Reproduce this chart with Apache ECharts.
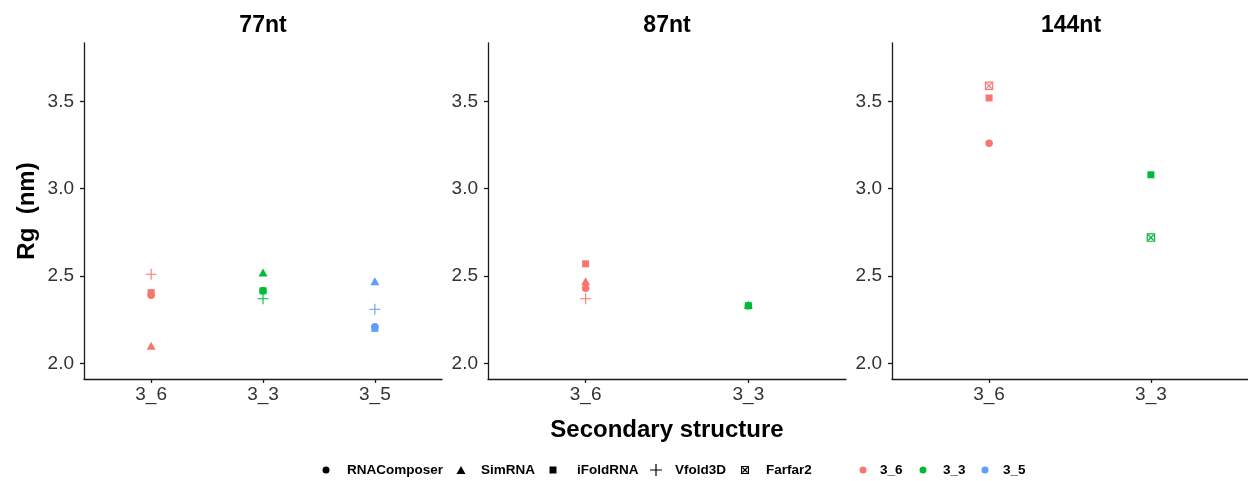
<!DOCTYPE html>
<html>
<head>
<meta charset="utf-8">
<script src="https://cdn.jsdelivr.net/npm/echarts@6/dist/echarts.min.js"></script>
<style>html,body{margin:0;padding:0;background:#fff;}#c{width:1248px;height:481px;}</style>
</head>
<body>
<div id="c"></div>
<script>
// ---------- data ----------
const panelNames = ['77nt', '87nt', '144nt'];
const cats77 = ['3_6', '3_3', '3_5'];
const cats87 = ['3_6', '3_3'];
const cats144 = ['3_6', '3_3'];
const methodNames = ['RNAComposer', 'SimRNA', 'iFoldRNA', 'Vfold3D', 'Farfar2'];
const structureNames = ['3_6', '3_3', '3_5'];
const yTicks = [2.0, 2.5, 3.0, 3.5];

// Rg (nm) per method, ordered as the panel's categories (null = no point)
const rg77_RNAComposer = [2.39, 2.415, 2.21];
const rg77_SimRNA      = [2.10, 2.52, 2.47];
const rg77_iFoldRNA    = [2.405, 2.415, 2.20];
const rg77_Vfold3D     = [2.51, 2.37, 2.31];
const rg77_Farfar2     = [null, null, null];

const rg87_RNAComposer = [2.43, 2.33];
const rg87_SimRNA      = [2.47, 2.335];
const rg87_iFoldRNA    = [2.57, 2.33];
const rg87_Vfold3D     = [2.37, null];
const rg87_Farfar2     = [null, null];

const rg144_RNAComposer = [3.26, null];
const rg144_SimRNA      = [null, null];
const rg144_iFoldRNA    = [3.52, 3.08];
const rg144_Vfold3D     = [null, null];
const rg144_Farfar2     = [3.59, 2.72];

// ---------- styling ----------
const FONT = '"Liberation Sans", Arial, Helvetica, sans-serif';
const structColors = { '3_6': '#F8766D', '3_3': '#00BA38', '3_5': '#619CFF' };
const PLUS = 'path://M0,5.4 L12,5.4 L12,6.6 L0,6.6 Z M5.4,0 L6.6,0 L6.6,12 L5.4,12 Z';
const BOXX = 'path://M0,0 L10,0 L10,10 L0,10 Z M1.4,1.4 L1.4,8.6 L8.6,8.6 L8.6,1.4 Z M1.4,2.4 L2.4,1.4 L8.6,7.6 L7.6,8.6 Z M7.6,1.4 L8.6,2.4 L2.4,8.6 L1.4,7.6 Z';
const methodSymbols = {
  RNAComposer: { symbol: 'circle', size: 7.5 },
  SimRNA: { symbol: 'triangle', size: [9, 8] },
  iFoldRNA: { symbol: 'rect', size: 7 },
  Vfold3D: { symbol: PLUS, size: 11 },
  Farfar2: { symbol: BOXX, size: 8.5 }
};

const panels = [
  { cats: cats77, values: [rg77_RNAComposer, rg77_SimRNA, rg77_iFoldRNA, rg77_Vfold3D, rg77_Farfar2] },
  { cats: cats87, values: [rg87_RNAComposer, rg87_SimRNA, rg87_iFoldRNA, rg87_Vfold3D, rg87_Farfar2] },
  { cats: cats144, values: [rg144_RNAComposer, rg144_SimRNA, rg144_iFoldRNA, rg144_Vfold3D, rg144_Farfar2] }
];
const gridLefts = [84, 488, 892];
const gridWidth = 358;
const gridTop = 43, gridHeight = 336;
const yMin = 1.91, yMax = 3.835;

const axisColor = '#1a1a1a';
const tickLabelColor = '#333';

const grids = [], xAxes = [], yAxes = [], series = [];
panels.forEach((p, pi) => {
  grids.push({ left: gridLefts[pi], top: gridTop, width: gridWidth, height: gridHeight, containLabel: false });
  const catValues = p.cats.map((c, i) => i + 1);
  xAxes.push({
    type: 'value', gridIndex: pi, min: 0.4, max: p.cats.length + 0.6,
    axisLine: { show: true, onZero: false, lineStyle: { color: axisColor, width: 1.3 } },
    axisTick: { show: true, length: 4, customValues: catValues, lineStyle: { color: axisColor, width: 1.3 } },
    axisLabel: { show: true, customValues: catValues, margin: 6, fontSize: 19, fontFamily: FONT, color: tickLabelColor,
      formatter: v => p.cats[Math.round(v) - 1] || '' },
    splitLine: { show: false }
  });
  yAxes.push({
    type: 'value', gridIndex: pi, min: yMin, max: yMax,
    axisLine: { show: true, onZero: false, lineStyle: { color: axisColor, width: 1.3 } },
    axisTick: { show: true, length: 4, customValues: yTicks, lineStyle: { color: axisColor, width: 1.3 } },
    axisLabel: { show: true, customValues: yTicks, margin: 10, fontSize: 19, fontFamily: FONT, color: tickLabelColor,
      formatter: v => Number(v).toFixed(1) },
    splitLine: { show: false }
  });
  methodNames.forEach((m, mi) => {
    const data = [];
    p.values[mi].forEach((v, ci) => { if (v !== null) data.push([ci + 1, v, p.cats[ci]]); });
    series.push({
      type: 'scatter', name: panelNames[pi] + ' ' + m, xAxisIndex: pi, yAxisIndex: pi,
      symbol: methodSymbols[m].symbol, symbolSize: methodSymbols[m].size,
      itemStyle: { color: params => structColors[params.data[2]], opacity: 1 },
      data: data, silent: true, z: 2 + mi
    });
  });
});

// legend-only series
methodNames.forEach(m => {
  series.push({ type: 'scatter', name: m, xAxisIndex: 0, yAxisIndex: 0, data: [],
    symbol: methodSymbols[m].symbol, symbolSize: methodSymbols[m].size, itemStyle: { color: '#000', opacity: 1 } });
});
structureNames.forEach(s => {
  series.push({ type: 'scatter', name: s, xAxisIndex: 0, yAxisIndex: 0, data: [],
    symbol: 'circle', symbolSize: 7, itemStyle: { color: structColors[s], opacity: 1 } });
});

// legend layout: icon center x, icon size, text start x
const legendLayout = [
  { name: 'RNAComposer', cx: 326, w: 7, h: 7, tx: 347 },
  { name: 'SimRNA', cx: 461, w: 9, h: 8, tx: 481 },
  { name: 'iFoldRNA', cx: 553, w: 7, h: 7, tx: 577 },
  { name: 'Vfold3D', cx: 656, w: 12, h: 12, tx: 675 },
  { name: 'Farfar2', cx: 745, w: 8, h: 8, tx: 766 },
  { name: '3_6', cx: 863, w: 7, h: 7, tx: 880 },
  { name: '3_3', cx: 923, w: 7, h: 7, tx: 943 },
  { name: '3_5', cx: 985, w: 7, h: 7, tx: 1003 }
];
const legends = legendLayout.map(L => {
  const left = L.cx - L.w / 2;
  const pad = Math.max(0, L.tx - (left + L.w) - 5);
  return {
    data: [L.name], left: left, top: 463, itemWidth: L.w, itemHeight: L.h, padding: 0,
    selectedMode: false,
    textStyle: { fontSize: 13.5, fontWeight: 'bold', fontFamily: FONT, color: '#000', padding: [0, 0, 0, pad] }
  };
});

const graphics = [];
panelNames.forEach((n, pi) => {
  graphics.push({ type: 'text', x: gridLefts[pi] + gridWidth / 2, y: 26, silent: true,
    style: { text: n, font: 'bold 23px ' + FONT, fill: '#000', align: 'center', verticalAlign: 'middle' } });
});
graphics.push({ type: 'text', x: 667, y: 430, silent: true,
  style: { text: 'Secondary structure', font: 'bold 24px ' + FONT, fill: '#000', align: 'center', verticalAlign: 'middle' } });
graphics.push({ type: 'text', x: 27, y: 211, rotation: Math.PI / 2, silent: true,
  style: { text: 'Rg  (nm)', font: 'bold 24px ' + FONT, fill: '#000', align: 'center', verticalAlign: 'middle' } });

const chart = echarts.init(document.getElementById('c'), null, { renderer: 'canvas' });
chart.setOption({
  animation: false,
  backgroundColor: '#fff',
  grid: grids,
  xAxis: xAxes,
  yAxis: yAxes,
  legend: legends,
  graphic: graphics,
  series: series
});
</script>
</body>
</html>
